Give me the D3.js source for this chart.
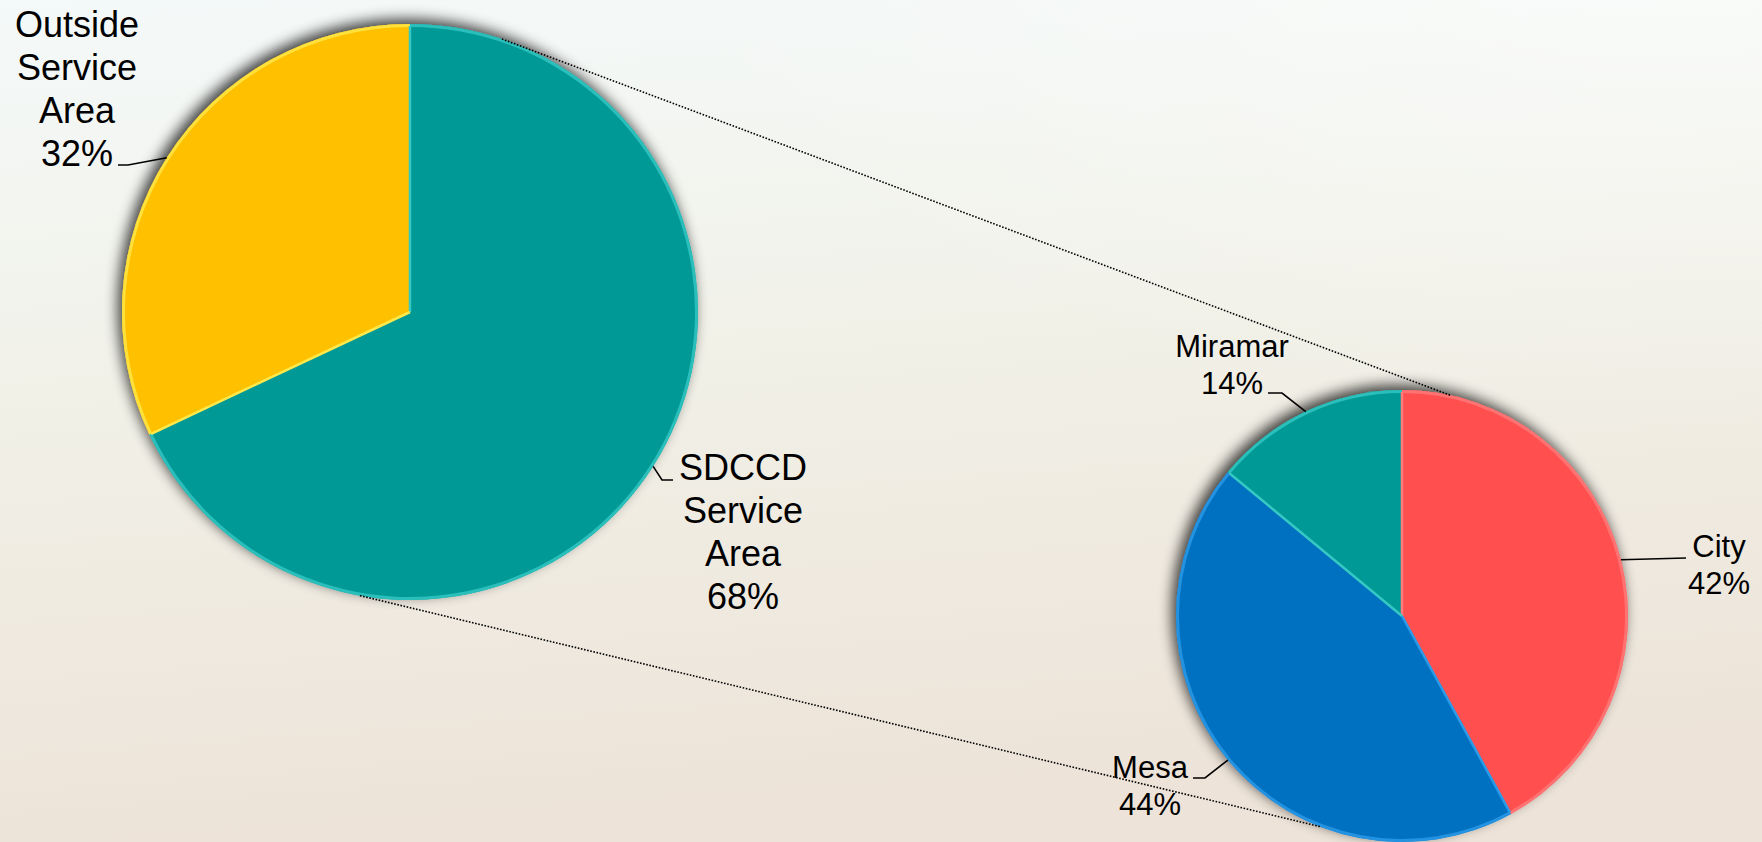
<!DOCTYPE html>
<html>
<head>
<meta charset="utf-8">
<script src="https://cdn.jsdelivr.net/npm/d3@7"></script>
<style>
  html, body { margin: 0; padding: 0; overflow: hidden; }
  body { width: 1762px; height: 842px; }
  text { font-family: "Liberation Sans", Arial, sans-serif; fill: #000; }
</style>
</head>
<body>
<svg id="chart" width="1762" height="842"></svg>
<script>
// ---- data ----
const mainCategories = ["SDCCD Service Area", "Outside Service Area"];
const mainValues = [68, 32];
const subCategories = ["City", "Mesa", "Miramar"];
const subValues = [42, 44, 14];

// ---- styles / layout ----
const mainColors = ["#009995", "#FFC000"];
const mainRims = ["#35C8C4", "#FFE84A"];
const subColors = ["#FF5050", "#0070C0", "#009995"];
const subRims = ["#FF7A7A", "#2A9BE8", "#35C8C4"];

const W = 1762, H = 842;
const bigPie = { cx: 410, cy: 312, r: 288, font: 36, lh: 43 };
const smallPie = { cx: 1402, cy: 616, r: 226, font: 31, lh: 37 };

// label anchors (center x, first baseline y) and leader elbow, per slice
const mainLabelLayout = [
  { x: 743, y: 480, elbow: [[662, 480], [673, 480]] },
  { x: 77, y: 37, elbow: [[128, 165], [118, 165]] }
];
const subLabelLayout = [
  { x: 1719, y: 557, elbow: [[1686, 558]] },
  { x: 1150, y: 778, elbow: [[1205, 778], [1193, 778]] },
  { x: 1232, y: 357, elbow: [[1282, 393], [1268, 393]] }
];

const svg = d3.select("#chart");
const defs = svg.append("defs");

// background
const bg = defs.append("linearGradient").attr("id", "bg")
  .attr("x1", 0).attr("y1", 0).attr("x2", 0.15).attr("y2", 1);
bg.append("stop").attr("offset", "0%").attr("stop-color", "#F4F9F9");
bg.append("stop").attr("offset", "45%").attr("stop-color", "#F1F1E8");
bg.append("stop").attr("offset", "100%").attr("stop-color", "#EDE3D8");
svg.append("rect").attr("width", W).attr("height", H).attr("fill", "url(#bg)");

const glow = defs.append("radialGradient").attr("id", "glow")
  .attr("cx", 0.95).attr("cy", -0.1).attr("r", 0.6);
glow.append("stop").attr("offset", "0%").attr("stop-color", "#FFFFFF").attr("stop-opacity", 0.55);
glow.append("stop").attr("offset", "100%").attr("stop-color", "#FFFFFF").attr("stop-opacity", 0);
svg.append("rect").attr("width", W).attr("height", H).attr("fill", "url(#glow)");

// shadow filter
const f = defs.append("filter").attr("id", "shadow")
  .attr("x", "-20%").attr("y", "-20%").attr("width", "140%").attr("height", "140%");
f.append("feGaussianBlur").attr("in", "SourceAlpha").attr("stdDeviation", 7).attr("result", "b");
f.append("feOffset").attr("in", "b").attr("dx", -4).attr("dy", -5).attr("result", "o");
f.append("feComponentTransfer").attr("in", "o").attr("result", "s")
  .append("feFuncA").attr("type", "linear").attr("slope", 0.75);
const m = f.append("feMerge");
m.append("feMergeNode").attr("in", "s");
m.append("feMergeNode").attr("in", "SourceGraphic");

const pie = d3.pie().sort(null).value(d => d);

function polar(p, angle, r) {
  return [p.cx + r * Math.sin(angle), p.cy - r * Math.cos(angle)];
}

function drawPie(p, cats, vals, colors, rims, layout) {
  const arcs = pie(vals);
  const arc = d3.arc().innerRadius(0).outerRadius(p.r);
  const g = svg.append("g").attr("transform", `translate(${p.cx},${p.cy})`);
  const body = g.append("g").attr("filter", "url(#shadow)");
  body.selectAll("path.slice").data(arcs).join("path")
    .attr("class", "slice")
    .attr("d", arc)
    .attr("fill", (d, i) => colors[i]);
  // bevel rim highlight
  const rimArc = d3.arc().innerRadius(p.r - 3).outerRadius(p.r);
  g.selectAll("path.rim").data(arcs).join("path")
    .attr("class", "rim")
    .attr("d", rimArc)
    .attr("fill", (d, i) => rims[i])
    .attr("opacity", 0.8);
  g.selectAll("line.edge").data(arcs).join("line")
    .attr("class", "edge")
    .attr("x1", 0).attr("y1", 0)
    .attr("x2", d => (p.r - 2) * Math.sin(d.startAngle))
    .attr("y2", d => -(p.r - 2) * Math.cos(d.startAngle))
    .attr("stroke", (d, i) => rims[i])
    .attr("stroke-width", 2.5);

  // labels with leader lines
  arcs.forEach((d, i) => {
    const mid = (d.startAngle + d.endAngle) / 2;
    const start = polar(p, mid, p.r);
    const pts = [start].concat(layout[i].elbow);
    svg.append("path")
      .attr("d", d3.line()(pts))
      .attr("fill", "none").attr("stroke", "#000").attr("stroke-width", 1.6);
    const words = cats[i].split(" ").concat([d3.format(".0f")(vals[i]) + "%"]);
    const t = svg.append("text")
      .attr("text-anchor", "middle")
      .attr("font-size", p.font);
    words.forEach((w, k) => {
      t.append("tspan").attr("x", layout[i].x).attr("y", layout[i].y + k * p.lh).text(w);
    });
  });
  return arcs;
}

drawPie(bigPie, mainCategories, mainValues, mainColors, mainRims, mainLabelLayout);
drawPie(smallPie, subCategories, subValues, subColors, subRims, subLabelLayout);

// connector (dotted) lines between the pies
const deg = Math.PI / 180;
const connectors = [
  [polar(bigPie, 18.6 * deg, bigPie.r), polar(smallPie, 12.3 * deg, smallPie.r)],
  [polar(bigPie, 190 * deg, bigPie.r), polar(smallPie, 201.3 * deg, smallPie.r)]
];
svg.selectAll("line.conn").data(connectors).join("line")
  .attr("class", "conn")
  .attr("x1", d => d[0][0]).attr("y1", d => d[0][1])
  .attr("x2", d => d[1][0]).attr("y2", d => d[1][1])
  .attr("stroke", "#000").attr("stroke-width", 1.6)
  .attr("stroke-dasharray", "1.6,1.6");
</script>
</body>
</html>
